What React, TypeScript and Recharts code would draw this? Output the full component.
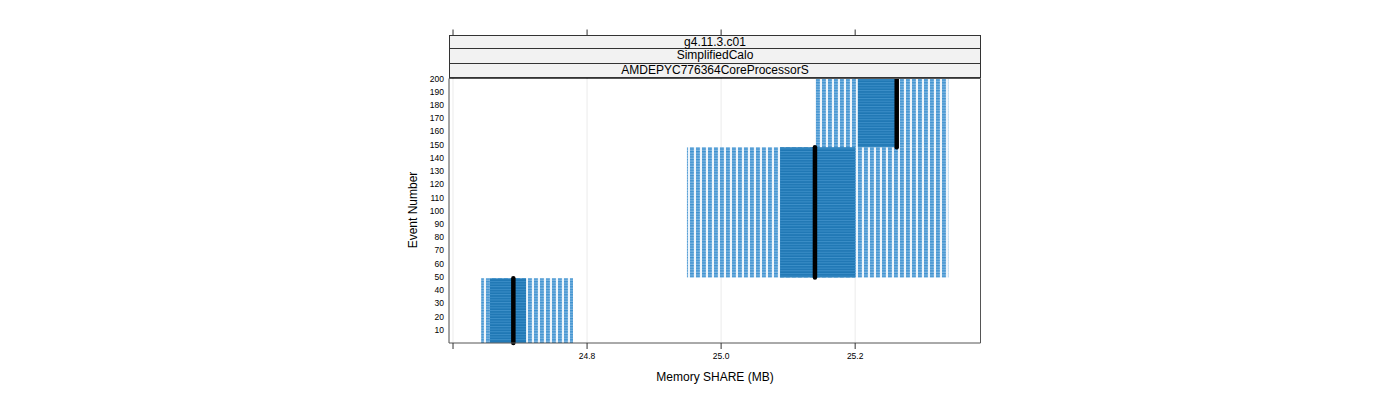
import React from 'react';
import {
  ScatterChart,
  Scatter,
  XAxis,
  YAxis,
  CartesianGrid,
  ReferenceArea,
  ReferenceLine,
} from 'recharts';

// Event groups (rows of the y axis)
const groupNames = ['events 1-50', 'events 51-150', 'events 151-200'];
const eventFrom = [0, 49.5, 148];
const eventTo = [49, 148, 200];
// Memory SHARE (MB) distribution per group
const minValues = [24.642, 24.949, 25.14];
const q1Values = [24.655, 25.088, 25.204];
const medianValues = [24.69, 25.14, 25.262];
const q3Values = [24.709, 25.2, 25.262];
const maxValues = [24.779, 25.339, 25.339];

const xTicks = [24.6, 24.8, 25.0, 25.2];
const xTickLabels = ['', '24.8', '25.0', '25.2'];
const yTicks = [10, 20, 30, 40, 50, 60, 70, 80, 90, 100, 110, 120, 130, 140, 150, 160, 170, 180, 190, 200];
const stripLabels = ['g4.11.3.c01', 'SimplifiedCalo', 'AMDEPYC776364CoreProcessorS'];

const xDomain: [number, number] = [24.594, 25.387];
const yDomain: [number, number] = [0, 200];

const medianPoints = medianValues.map((m, i) => ({ x: m, y: (eventFrom[i] + eventTo[i]) / 2, name: groupNames[i] }));

const FONT = '"Liberation Sans", Arial, sans-serif';

export default function App() {
  const fmt = (v: number) => {
    const i = xTicks.indexOf(v);
    return i >= 0 ? xTickLabels[i] : '';
  };
  return (
    <div style={{ position: 'absolute', left: 0, top: 0, width: 1400, height: 400, fontFamily: FONT, background: '#fff' }}>
      <ScatterChart
        width={1400}
        height={400}
        margin={{ top: 28.5, right: 418.5, bottom: 27, left: 409 }}
        style={{ fontFamily: FONT }}
      >
        <defs>
          <pattern id="lightPat" patternUnits="userSpaceOnUse" width={6} height={2.65}>
            <rect width={6} height={2.65} fill="#eef5fb" />
            <rect x={0} width={3.8} height={2.65} fill="#7ab4e0" />
            <rect x={0} width={3.8} height={1.3} fill="#3f92cf" />
          </pattern>
          <pattern id="darkPat" patternUnits="userSpaceOnUse" width={6} height={2.65}>
            <rect width={6} height={2.65} fill="#1f77b4" />
            <rect width={6} height={1} fill="#3d8fc8" />
          </pattern>
        </defs>
        <CartesianGrid horizontal={false} stroke="#ebebeb" />
        <XAxis
          type="number"
          dataKey="x"
          domain={xDomain}
          allowDataOverflow
          ticks={xTicks}
          interval={0}
          tickFormatter={fmt}
          height={30}
          tickSize={6}
          tickMargin={4}
          stroke="#333"
          tick={{ fill: '#000', fontSize: 8.5, fontFamily: FONT }}
          axisLine={{ stroke: '#555' }}
          tickLine={{ stroke: '#333' }}
        />
        <XAxis
          xAxisId="top"
          orientation="top"
          type="number"
          dataKey="x"
          domain={xDomain}
          allowDataOverflow
          ticks={xTicks}
          interval={0}
          tickFormatter={() => ''}
          height={50}
          tickSize={49}
          axisLine={{ stroke: '#555' }}
          tickLine={{ stroke: '#333' }}
        />
        <YAxis
          type="number"
          dataKey="y"
          domain={yDomain}
          allowDataOverflow
          ticks={yTicks}
          interval={0}
          width={40}
          tickSize={0}
          tickMargin={5}
          tickLine={false}
          axisLine={{ stroke: '#555' }}
          tick={{ fill: '#000', fontSize: 8.5, fontFamily: FONT }}
        />
        <YAxis
          yAxisId="right"
          orientation="right"
          type="number"
          domain={yDomain}
          width={1}
          tick={false}
          tickLine={false}
          axisLine={{ stroke: '#555' }}
        />
        {groupNames.map((g, i) => (
          <ReferenceArea
            key={'l' + g}
            x1={minValues[i]}
            x2={maxValues[i]}
            y1={eventFrom[i]}
            y2={eventTo[i]}
            fill="url(#lightPat)"
            fillOpacity={1}
            stroke="none"
          />
        ))}
        {groupNames.map((g, i) => (
          <ReferenceArea
            key={'d' + g}
            x1={q1Values[i]}
            x2={q3Values[i]}
            y1={eventFrom[i]}
            y2={eventTo[i]}
            fill="url(#darkPat)"
            fillOpacity={1}
            stroke="none"
          />
        ))}
        {groupNames.map((g, i) => (
          <ReferenceLine
            key={'m' + g}
            segment={[
              { x: medianValues[i], y: eventFrom[i] },
              { x: medianValues[i], y: eventTo[i] },
            ]}
            stroke="#000"
            strokeWidth={4.5}
            strokeLinecap="round"
          />
        ))}
        <Scatter data={medianPoints} fill="none" shape={() => <g />} isAnimationActive={false} />
      </ScatterChart>
      {stripLabels.map((s, i) => (
        <div
          key={s}
          style={{
            position: 'absolute',
            left: 449,
            top: 35 + i * 14.4,
            width: 532,
            height: 14.4,
            boxSizing: 'border-box',
            border: '1px solid #333',
            borderTopWidth: i === 0 ? 1 : 0,
            background: '#f2f2f2',
            fontSize: 12,
            lineHeight: '13.4px',
            textAlign: 'center',
            color: '#000',
            fontFamily: FONT,
          }}
        >
          {s}
        </div>
      ))}
      <div
        style={{
          position: 'absolute',
          left: 615,
          top: 370,
          width: 200,
          textAlign: 'center',
          fontSize: 12,
          lineHeight: '14px',
          color: '#000',
          fontFamily: FONT,
        }}
      >
        Memory SHARE (MB)
      </div>
      <div
        style={{
          position: 'absolute',
          left: 413 - 100,
          top: 210 - 7,
          width: 200,
          textAlign: 'center',
          fontSize: 12,
          lineHeight: '14px',
          color: '#000',
          fontFamily: FONT,
          transform: 'rotate(-90deg)',
        }}
      >
        Event Number
      </div>
    </div>
  );
}
